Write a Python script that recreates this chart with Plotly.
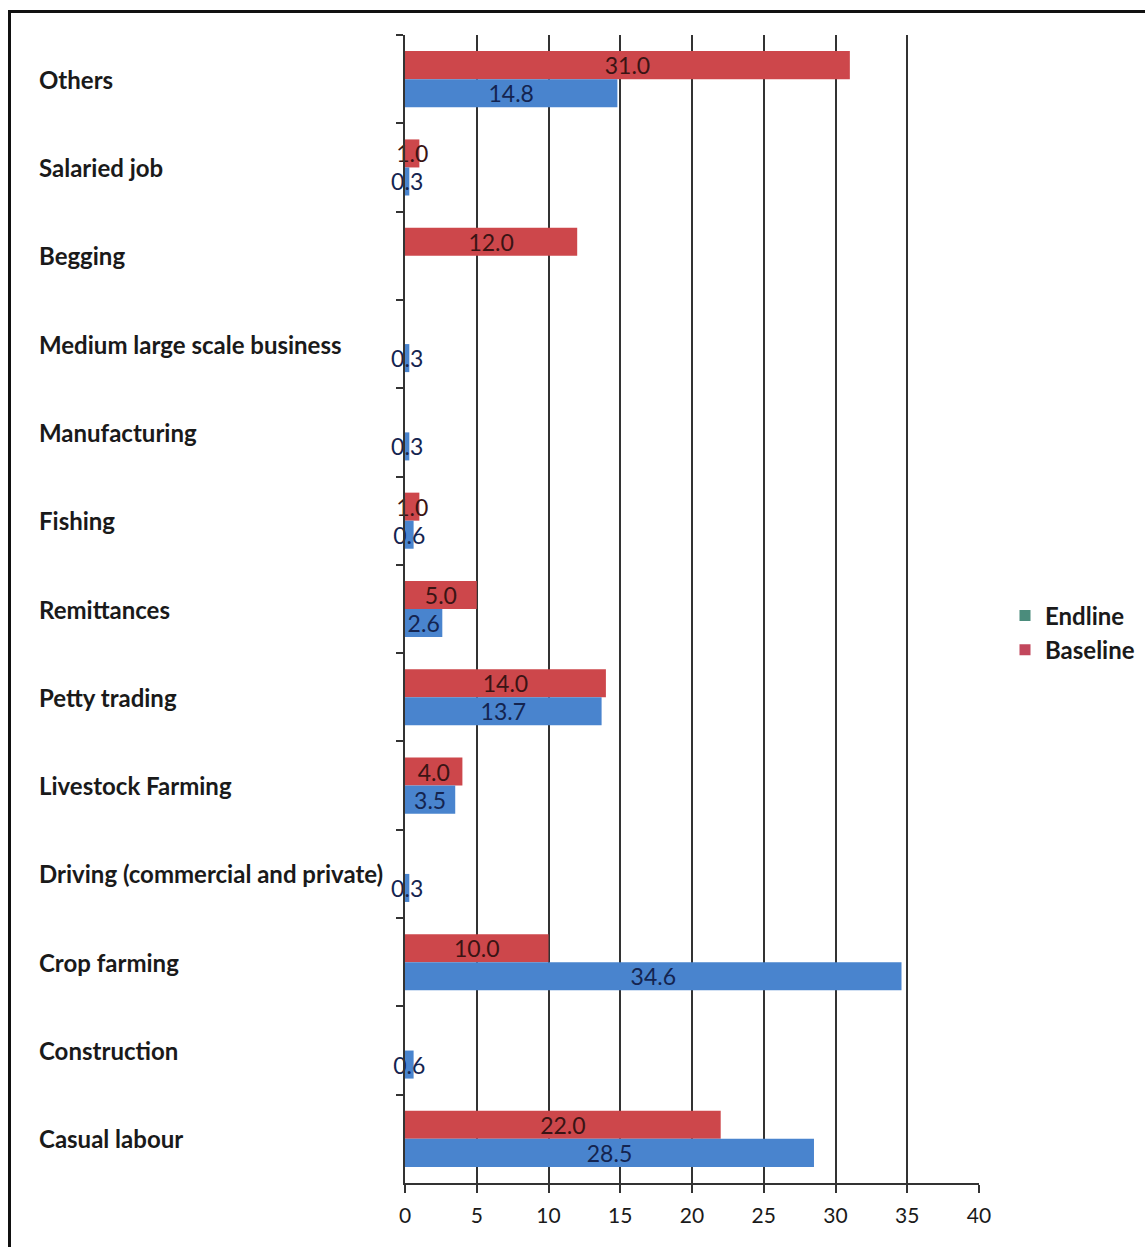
import plotly.graph_objects as go

# Main income sources, listed top to bottom as they appear on the chart
categories = [
    "Others",
    "Salaried job",
    "Begging",
    "Medium large scale business",
    "Manufacturing",
    "Fishing",
    "Remittances",
    "Petty trading",
    "Livestock Farming",
    "Driving (commercial and private)",
    "Crop farming",
    "Construction",
    "Casual labour",
]
baseline = [31.0, 1.0, 12.0, None, None, 1.0, 5.0, 14.0, 4.0, None, 10.0, None, 22.0]
endline = [14.8, 0.3, None, 0.3, 0.3, 0.6, 2.6, 13.7, 3.5, 0.3, 34.6, 0.6, 28.5]
x_ticks = [0, 5, 10, 15, 20, 25, 30, 35, 40]

W, H = 1145, 1247
L, R, T, B = 405, W - 979, 35, H - 1183

FONT = "Lato, 'Open Sans', sans-serif"
RED = "#CD474B"
BLUE = "#4984CE"


def labels(vals):
    return ["" if v is None else f"{v:.1f}" for v in vals]


fig = go.Figure()

fig.add_trace(go.Bar(
    y=categories, x=baseline, orientation="h", name="Baseline",
    marker=dict(color=RED, line=dict(width=0)),
    text=labels(baseline), textposition="inside", insidetextanchor="middle",
    textangle=0, constraintext="none",
    textfont=dict(family=FONT, size=23, color="#3a1414"),
    showlegend=False, cliponaxis=False,
))
fig.add_trace(go.Bar(
    y=categories, x=endline, orientation="h", name="Endline",
    marker=dict(color=BLUE, line=dict(width=0)),
    text=labels(endline), textposition="inside", insidetextanchor="middle",
    textangle=0, constraintext="none",
    textfont=dict(family=FONT, size=23, color="#142450"),
    showlegend=False, cliponaxis=False,
))

# Legend keys
fig.add_trace(go.Scatter(
    x=[None], y=[None], mode="markers", name="Endline",
    marker=dict(symbol="square", size=11, color="#4B8C7C"),
))
fig.add_trace(go.Scatter(
    x=[None], y=[None], mode="markers", name="Baseline",
    marker=dict(symbol="square", size=11, color="#C2475C"),
))

pw = W - L - R
ph = H - T - B

# Left-aligned category names
for c in categories:
    fig.add_annotation(
        x=(37 - L) / pw, xref="paper", xanchor="left",
        y=c, yref="y", yanchor="middle",
        text=c, showarrow=False,
        font=dict(family=FONT, size=24, color="#1a1a1a", weight="bold"),
    )

# Outer frame
fig.add_shape(
    type="rect", xref="paper", yref="paper",
    x0=(9.5 - L) / pw, x1=(W + 20 - L) / pw,
    y0=(H - B - (H + 20)) / ph, y1=(H - B - 11.5) / ph,
    line=dict(color="#111111", width=3), layer="below",
)

fig.update_layout(
    width=W, height=H,
    margin=dict(l=L, r=R, t=T, b=B, pad=0, autoexpand=False),
    paper_bgcolor="white", plot_bgcolor="white",
    barmode="group", bargap=0.365, bargroupgap=0,
    font=dict(family=FONT, size=21, color="#1a1a1a"),
    legend=dict(
        x=(1005 - L) / pw, xanchor="left",
        y=(H - B - 633) / ph, yanchor="middle",
        font=dict(family=FONT, size=24, color="#1a1a1a", weight="bold"),
        itemwidth=30, tracegroupgap=0, bgcolor="rgba(0,0,0,0)",
    ),
    xaxis=dict(
        range=[0, 40], tickvals=x_ticks, ticktext=[str(v) for v in x_ticks],
        showgrid=True, gridcolor="#333333", gridwidth=1.5,
        zeroline=False, showline=True, linecolor="#333333", linewidth=1.5,
        ticks="outside", ticklen=8, tickcolor="#333333", tickwidth=1.5,
        ticklabelstandoff=5,
        tickfont=dict(family=FONT, size=21, color="#1a1a1a"),
    ),
    yaxis=dict(
        categoryorder="array", categoryarray=categories,
        autorange="reversed", showticklabels=False,
        showline=True, linecolor="#333333", linewidth=1.5,
        ticks="outside", tickson="boundaries", ticklen=7,
        tickcolor="#333333", tickwidth=1.5, showgrid=False,
    ),
)

fig.write_html("out.html")
